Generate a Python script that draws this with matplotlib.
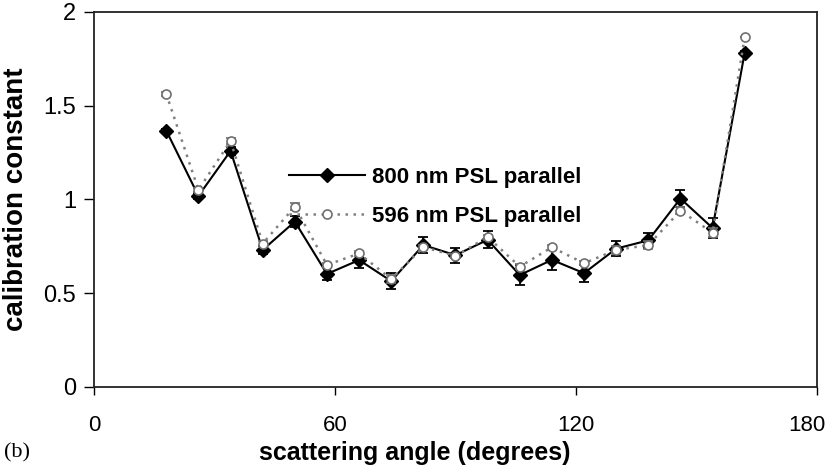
import matplotlib
matplotlib.use('Agg')
import matplotlib.pyplot as plt
from matplotlib.lines import Line2D
from matplotlib.transforms import ScaledTranslation

plt.rcParams['font.family'] = ['Liberation Sans', 'DejaVu Sans']

# scattering angles (degrees)
angle = [18, 26, 34, 42, 50, 58, 66, 74, 82, 90, 98, 106, 114, 122, 130, 138, 146, 154, 162]

# 800 nm PSL, parallel polarisation
cal_800 = [1.367, 1.019, 1.259, 0.731, 0.882, 0.603, 0.677, 0.565, 0.757, 0.703, 0.785,
           0.597, 0.678, 0.607, 0.738, 0.782, 1.005, 0.848, 1.783]
err_800 = [0.010, 0.015, 0.020, 0.020, 0.030, 0.035, 0.040, 0.045, 0.045, 0.040, 0.045,
           0.055, 0.055, 0.045, 0.040, 0.040, 0.045, 0.055, 0.010]

# 596 nm PSL, parallel polarisation
cal_596 = [1.563, 1.051, 1.312, 0.765, 0.962, 0.651, 0.712, 0.576, 0.746, 0.699, 0.800,
           0.642, 0.745, 0.660, 0.731, 0.757, 0.940, 0.823, 1.865]
err_596 = [0.012, 0.012, 0.018, 0.012, 0.020, 0.012, 0.012, 0.020, 0.012, 0.012, 0.012,
           0.012, 0.012, 0.012, 0.020, 0.020, 0.020, 0.025, 0.000]

fig = plt.figure(figsize=(8.37, 4.7), dpi=100)
ax = fig.add_axes([0.1123, 0.1766, 0.8638, 0.7979])

solid = dict(color='black', lw=1.5, marker='D', ms=6.8, mfc='black', mec='black')
dotted = dict(color='#808080', lw=1.8, ls=(0, (1, 2.2)), marker='o', ms=6.5,
              mfc='white', mec='#707070', mew=1.2)

ax.errorbar(angle, cal_800, yerr=err_800, ecolor='black', elinewidth=1.3,
            capsize=3.5, capthick=1.3, zorder=3, **solid)
ax.errorbar(angle, cal_596, yerr=err_596, ecolor='#707070', elinewidth=1.3,
            capsize=3.5, capthick=1.3, zorder=4, **dotted)

ax.set_xlim(0, 180)
ax.set_ylim(0, 2)
ax.set_xticks([0, 60, 120, 180])
ax.set_yticks([0, 0.5, 1, 1.5, 2])
ax.set_yticklabels(['0', '0.5', '1', '1.5', '2'])
ax.tick_params(axis='x', direction='out', length=6, width=1, pad=14, labelsize=16)
ax.tick_params(axis='y', direction='out', length=7, width=1, pad=6, labelsize=17)
for s in ax.spines.values():
    s.set_linewidth(1.3)
    s.set_color('#222222')

# keep the last x label inside the figure edge
last = ax.get_xticklabels()[-1]
last.set_transform(last.get_transform() + ScaledTranslation(-0.1, 0, fig.dpi_scale_trans))

handles = [Line2D([], [], **solid), Line2D([], [], **dotted)]
ax.legend(handles, ['800 nm PSL parallel', '596 nm PSL parallel'], loc='center',
          bbox_to_anchor=(0.472, 0.507), frameon=False, handlelength=3.4,
          labelspacing=0.8, handletextpad=0.3, prop={'weight': 'bold', 'size': 16})

ax.set_ylabel('calibration constant', fontsize=20, fontweight='bold', labelpad=10)
fig.text(415 / 837, 1 - 453 / 470, 'scattering angle (degrees)', fontsize=18,
         fontweight='bold', ha='center', va='center')
fig.text(4 / 837, 1 - 453 / 470, '(b)', fontsize=16, family='Liberation Serif',
         ha='left', va='center')

fig.savefig('out.png', dpi=100)
